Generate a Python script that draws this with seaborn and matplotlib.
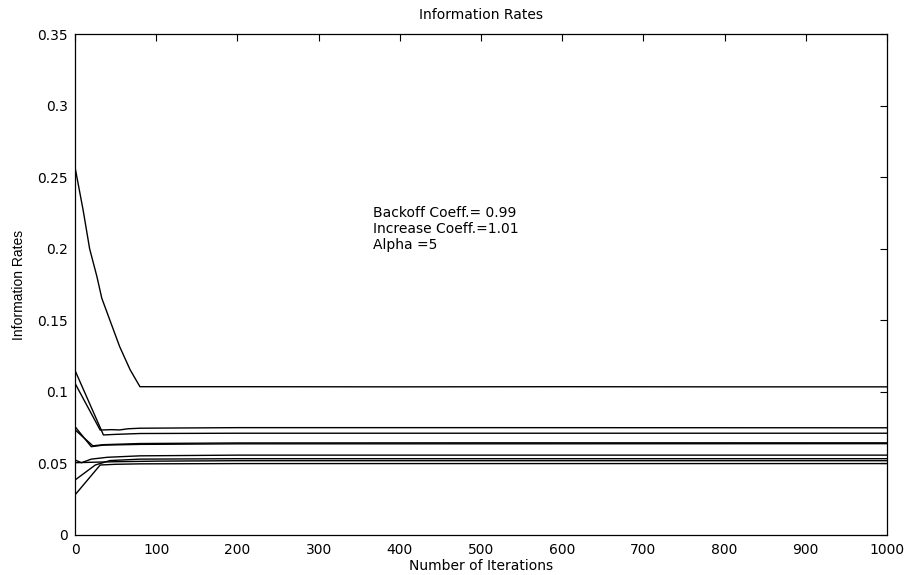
import numpy as np
import pandas as pd
import matplotlib
matplotlib.use("Agg")
import matplotlib.pyplot as plt
import seaborn as sns

# Information rate of each user versus iteration count (knots of each trace)
s1_iter = [0, 1, 10, 18, 27, 33, 43, 55, 68, 80, 200, 400, 600, 800, 1000]
s1_rate = [0.257, 0.254, 0.227, 0.200, 0.1805, 0.1654, 0.150, 0.1316, 0.1153, 0.1036,
           0.1036, 0.1035, 0.1036, 0.1035, 0.1035]

s2_iter = [0, 35, 50, 80, 200, 500, 1000]
s2_rate = [0.115, 0.0699, 0.0703, 0.0709, 0.0711, 0.0711, 0.0711]

s3_iter = [0, 31, 45, 55, 65, 80, 200, 500, 1000]
s3_rate = [0.106, 0.0733, 0.0736, 0.0734, 0.0742, 0.0746, 0.0750, 0.0750, 0.0749]

s4_iter = [0, 20, 35, 80, 200, 500, 1000]
s4_rate = [0.0757, 0.0617, 0.0628, 0.0633, 0.0637, 0.0637, 0.0638]

s5_iter = [0, 22, 35, 80, 200, 500, 1000]
s5_rate = [0.0735, 0.0623, 0.0631, 0.0639, 0.0643, 0.0644, 0.0644]

s6_iter = [0, 8, 20, 40, 80, 200, 500, 1000]
s6_rate = [0.0524, 0.0505, 0.0530, 0.0543, 0.0553, 0.0558, 0.0558, 0.0558]

s7_iter = [0, 25, 43, 80, 200, 500, 1000]
s7_rate = [0.0384, 0.0489, 0.0520, 0.0530, 0.0533, 0.0533, 0.0533]

s8_iter = [0, 20, 50, 100, 200, 500, 1000]
s8_rate = [0.0505, 0.0508, 0.0512, 0.0516, 0.0519, 0.0519, 0.0519]

s9_iter = [0, 31, 50, 80, 200, 500, 1000]
s9_rate = [0.028, 0.0489, 0.0494, 0.0497, 0.0499, 0.0499, 0.0499]

series = [
    (s1_iter, s1_rate), (s2_iter, s2_rate), (s3_iter, s3_rate),
    (s4_iter, s4_rate), (s5_iter, s5_rate), (s6_iter, s6_rate),
    (s7_iter, s7_rate), (s8_iter, s8_rate), (s9_iter, s9_rate),
]

x_ticks = [0, 100, 200, 300, 400, 500, 600, 700, 800, 900, 1000]
y_ticks = [0, 0.05, 0.1, 0.15, 0.2, 0.25, 0.3, 0.35]
y_tick_labels = ["0", "0.05", "0.1", "0.15", "0.2", "0.25", "0.3", "0.35"]

frames = []
for k, (it, r) in enumerate(series):
    frames.append(pd.DataFrame({"iteration": it, "rate": r, "user": k + 1}))
df = pd.concat(frames, ignore_index=True)

sns.set_style("white")
plt.rcParams["font.family"] = ["DejaVu Sans"]
plt.rcParams["text.color"] = "black"
plt.rcParams["axes.labelcolor"] = "black"

fig = plt.figure(figsize=(9.11, 5.75), dpi=100)
ax = fig.add_axes([75 / 911, 1 - 535 / 575, 812 / 911, 501 / 575])

sns.lineplot(data=df, x="iteration", y="rate", units="user", estimator=None,
             color="black", linewidth=1.0, legend=False, ax=ax, sort=False)

ax.set_xlim(0, 1000)
ax.set_ylim(0, 0.35)
ax.set_xticks(x_ticks)
ax.set_xticklabels([str(t) for t in x_ticks])
ax.set_yticks(y_ticks)
ax.set_yticklabels(y_tick_labels)

for side in ["left", "right", "top", "bottom"]:
    ax.spines[side].set_visible(True)
    ax.spines[side].set_color("black")
    ax.spines[side].set_linewidth(0.9)

ax.tick_params(axis="both", which="major", direction="in", length=5, width=0.8,
               top=True, right=True, labelsize=10, colors="black")
ax.tick_params(axis="x", pad=6)
ax.tick_params(axis="y", pad=5)

ax.set_title("Information Rates", fontsize=10, pad=11, color="black")
ax.set_xlabel("Number of Iterations", fontsize=10, labelpad=1)
ax.set_ylabel("Information Rates", fontsize=10, family=["Liberation Sans"], labelpad=8)

ax.text(367, 0.2295, "Backoff Coeff.= 0.99\nIncrease Coeff.=1.01\nAlpha =5",
        fontsize=10, va="top", ha="left", linespacing=1.15, color="black")

fig.savefig("out.png", dpi=100)
